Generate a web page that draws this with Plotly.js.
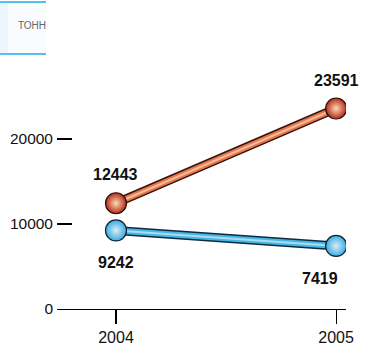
<!DOCTYPE html>
<html>
<head>
<meta charset="utf-8">
<script src="https://cdn.plot.ly/plotly-3.0.1.min.js"></script>
<style>
html,body{margin:0;padding:0;background:#fff;}
#chart{width:365px;height:347px;}
</style>
</head>
<body>
<div id="chart"></div>
<script>
// ---- data ----
var years = [2004, 2005];
var seriesRed = [12443, 23591];
var seriesBlue = [9242, 7419];
var yTickVals = [0, 10000, 20000];
var yTickText = ['0', '10000', '20000'];
var xTickText = ['2004', '2005'];
var unitLabel = 'ТОНН';

function px2x(p){ return (p - 57) / 289; }
function px2y(p){ return (309 - p) / 249; }

var traces = [
  {x: years, y: seriesRed, mode: 'lines', line: {color: '#3a130a', width: 9}, hoverinfo: 'skip'},
  {x: years, y: seriesRed, mode: 'lines', line: {color: '#e2774f', width: 6}, hoverinfo: 'skip'},
  {x: years, y: seriesRed, mode: 'lines', line: {color: '#f7b996', width: 2}, hoverinfo: 'skip'},
  {x: years, y: seriesBlue, mode: 'lines', line: {color: '#0f2a3c', width: 9}, hoverinfo: 'skip'},
  {x: years, y: seriesBlue, mode: 'lines', line: {color: '#45b6e6', width: 6}, hoverinfo: 'skip'},
  {x: years, y: seriesBlue, mode: 'lines', line: {color: '#a9dcf3', width: 2}, hoverinfo: 'skip'},
  {x: years, y: seriesRed, mode: 'markers',
   marker: {size: 21, color: '#b52a1a', line: {color: '#2a0d06', width: 1.2},
            gradient: {type: 'radial', color: '#fcd9b5'}}},
  {x: years, y: seriesBlue, mode: 'markers',
   marker: {size: 21, color: '#38ace2', line: {color: '#0d2433', width: 1.2},
            gradient: {type: 'radial', color: '#dcecf5'}}}
];

var labelFont = {family: 'Liberation Sans, Arial, sans-serif', size: 16, color: '#111', weight: 'bold'};
var annotations = [
  {x: years[0], y: seriesRed[0], text: '<b>' + seriesRed[0] + '</b>', showarrow: false, yshift: 29, font: labelFont},
  {x: years[1], y: seriesRed[1], text: '<b>' + seriesRed[1] + '</b>', showarrow: false, yshift: 28, font: labelFont},
  {x: years[0], y: seriesBlue[0], text: '<b>' + seriesBlue[0] + '</b>', showarrow: false, yshift: -32, font: labelFont},
  {x: years[1], y: seriesBlue[1], text: '<b>' + seriesBlue[1] + '</b>', showarrow: false, yshift: -33, xshift: -16, font: labelFont},
  {xref: 'paper', yref: 'paper', x: px2x(31.5), y: px2y(25), xanchor: 'center', yanchor: 'middle',
   text: unitLabel, showarrow: false,
   font: {family: 'Liberation Sans, Arial, sans-serif', size: 10, color: '#666'}}
];

var shapes = [
  {type: 'rect', xref: 'paper', yref: 'paper', x0: px2x(0), x1: px2x(46), y0: px2y(54), y1: px2y(2),
   fillcolor: '#f8fcfe', line: {width: 0}, layer: 'below'},
  {type: 'rect', xref: 'paper', yref: 'paper', x0: px2x(0), x1: px2x(8), y0: px2y(54), y1: px2y(2),
   fillcolor: '#eaf6fc', line: {width: 0}, layer: 'below'},
  {type: 'line', xref: 'paper', yref: 'paper', x0: px2x(0), x1: px2x(46), y0: px2y(2), y1: px2y(2),
   line: {color: '#56c0ea', width: 2}},
  {type: 'line', xref: 'paper', yref: 'paper', x0: px2x(0), x1: px2x(46), y0: px2y(54), y1: px2y(54),
   line: {color: '#56c0ea', width: 2}}
];

var layout = {
  width: 365, height: 347,
  margin: {l: 57, r: 19, t: 60, b: 38},
  paper_bgcolor: '#fff', plot_bgcolor: '#fff',
  showlegend: false,
  xaxis: {
    range: [2003.732, 2005.045], tickvals: years, ticktext: xTickText,
    ticks: 'outside', ticklen: 14, tickwidth: 1.2, tickcolor: '#000',
    showline: true, linecolor: '#000', linewidth: 1.2,
    showgrid: false, zeroline: false, fixedrange: true,
    tickfont: {family: 'Liberation Sans, Arial, sans-serif', size: 16, color: '#111'}
  },
  yaxis: {
    range: [0, 29294], tickvals: yTickVals, ticktext: yTickText,
    ticks: 'inside', ticklen: 15, tickwidth: 1.2, tickcolor: '#000',
    showline: false, showgrid: false, zeroline: false, fixedrange: true,
    ticklabelstandoff: 3,
    tickfont: {family: 'Liberation Sans, Arial, sans-serif', size: 15.5, color: '#111'}
  },
  annotations: annotations,
  shapes: shapes
};

Plotly.newPlot('chart', traces, layout, {displayModeBar: false, staticPlot: true});
</script>
</body>
</html>
